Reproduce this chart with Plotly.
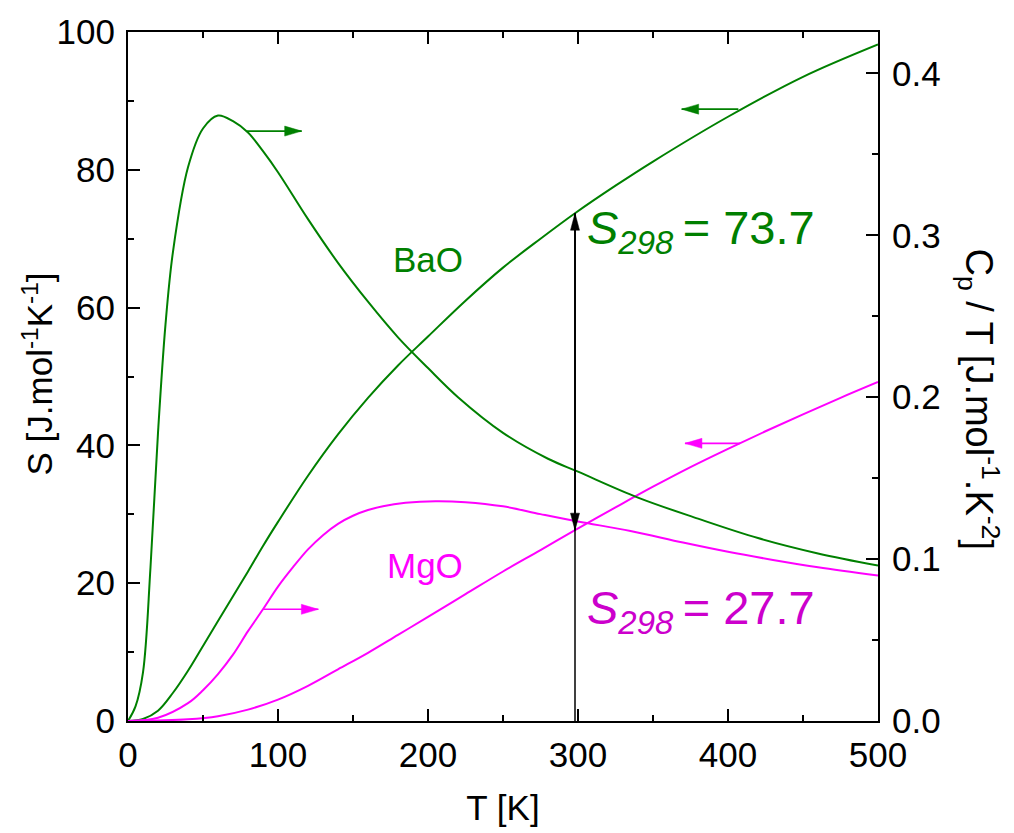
import plotly.graph_objects as go

# BaO: Cp/T (right axis) and entropy S (left axis) against temperature
bao_cp_T = [0, 5, 10, 15, 20, 25, 30, 40, 50, 60, 70, 80, 90, 100, 120, 140, 160, 180,
            200, 220, 250, 280, 300, 340, 380, 420, 460, 500]
bao_cp = [0, 0.009, 0.030, 0.095, 0.178, 0.245, 0.290, 0.342, 0.366, 0.374, 0.3705,
          0.3635, 0.352, 0.339, 0.310, 0.283, 0.259, 0.237, 0.218, 0.200, 0.178, 0.162,
          0.154, 0.138, 0.125, 0.113, 0.1035, 0.096]

bao_s_T = [0, 10, 20, 30, 40, 50, 60, 70, 80, 90, 100, 120, 140, 160, 180, 200, 225,
           250, 275, 298, 325, 350, 400, 450, 500]
bao_s = [0, 0.3, 1.5, 4.1, 7.3, 10.9, 14.5, 18.1, 21.7, 25.4, 28.9, 35.6, 41.6, 46.9,
         51.6, 55.8, 61.0, 65.8, 70.0, 73.7, 77.7, 81.2, 87.7, 93.5, 98.2]

# MgO: Cp/T (right axis) and entropy S (left axis)
mgo_cp_T = [0, 20, 40, 50, 60, 70, 80, 90, 100, 110, 120, 130, 140, 150, 160, 170, 185,
            205, 225, 250, 275, 300, 335, 370, 400, 430, 460, 500]
mgo_cp = [0, 0.002, 0.011, 0.019, 0.029, 0.041, 0.0555, 0.069, 0.083, 0.095, 0.106,
          0.1148, 0.1218, 0.1268, 0.1303, 0.1327, 0.1348, 0.1358, 0.1352, 0.1326,
          0.1278, 0.1232, 0.1174, 0.1102, 0.1045, 0.0995, 0.0950, 0.0898]

mgo_s_T = [0, 40, 60, 80, 100, 120, 140, 160, 180, 200, 225, 250, 275, 298, 325, 350,
           375, 400, 425, 450, 475, 500]
mgo_s = [0, 0.25, 0.7, 1.65, 3.1, 5.1, 7.5, 9.9, 12.5, 15.1, 18.4, 21.7, 24.8, 27.7,
         31.0, 34.0, 36.85, 39.5, 42.05, 44.5, 46.9, 49.2]

T_REF = 298
S298_BAO = 73.7
S298_MGO = 27.7

GREEN = "#008000"
MAGENTA = "#FF00FF"
FONT = "Liberation Sans, Arial, sans-serif"

fig = go.Figure()


def curve(xs, ys, axis, color):
    fig.add_trace(go.Scatter(
        x=xs, y=ys, yaxis=axis, mode="lines", showlegend=False, hoverinfo="skip",
        line=dict(color=color, width=2, shape="spline", smoothing=1.0, simplify=False)))


curve(bao_cp_T, bao_cp, "y2", GREEN)
curve(bao_s_T, bao_s, "y", GREEN)
curve(mgo_cp_T, mgo_cp, "y2", MAGENTA)
curve(mgo_s_T, mgo_s, "y", MAGENTA)

shapes = []


def arrow(x_tail, y_tail, x_tip, y_tip, yref, color, width=1.6, head_len=17, head_w=5):
    """Straight line with a filled triangular head drawn in pixel units at the tip."""
    shapes.append(dict(type="line", xref="x", yref=yref, x0=x_tail, y0=y_tail,
                       x1=x_tip, y1=y_tip, line=dict(color=color, width=width)))
    if x_tip > x_tail:
        path = f"M0,0 L{-head_len},{head_w} L{-head_len},{-head_w} Z"
    elif x_tip < x_tail:
        path = f"M0,0 L{head_len},{head_w} L{head_len},{-head_w} Z"
    elif y_tip > y_tail:
        path = f"M0,0 L{-head_w},{-head_len} L{head_w},{-head_len} Z"
    else:
        path = f"M0,0 L{-head_w},{head_len} L{head_w},{head_len} Z"
    shapes.append(dict(type="path", xref="x", yref=yref, xsizemode="pixel",
                       ysizemode="pixel", xanchor=x_tip, yanchor=y_tip, path=path,
                       fillcolor=color, line=dict(color=color, width=0.5)))


# pointers showing which axis each curve belongs to
arrow(79.1, 0.3644, 115.8, 0.3644, "y2", GREEN)
arrow(406.9, 88.8, 369.1, 88.8, "y", GREEN)
arrow(90.2, 0.069, 126.9, 0.069, "y2", MAGENTA)
arrow(408, 40.3, 371.3, 40.3, "y", MAGENTA)

# standard entropy marker at 298 K
shapes.append(dict(type="line", xref="x", yref="y", x0=T_REF, y0=0, x1=T_REF,
                   y1=S298_BAO, line=dict(color="black", width=1.5)))
arrow(T_REF, S298_MGO, T_REF, S298_BAO, "y", "black", width=1.5, head_len=17, head_w=4.5)
arrow(T_REF, S298_BAO, T_REF, S298_MGO, "y", "black", width=1.5, head_len=17, head_w=4.5)

THIN = "\u2009"
annotations = [
    dict(x=199.7, y=67.0, xref="x", yref="y", text="BaO", showarrow=False,
         font=dict(size=35, color=GREEN)),
    dict(x=198, y=22.6, xref="x", yref="y", text="MgO", showarrow=False,
         font=dict(size=35, color=MAGENTA)),
    dict(x=304.5, y=71.1, xref="x", yref="y", xanchor="left", yanchor="middle",
         text=f"<i>S</i><sub><i>{T_REF}</i></sub>{THIN}= {S298_BAO}", showarrow=False,
         font=dict(size=47, color="#007F00")),
    dict(x=304.5, y=15.9, xref="x", yref="y", xanchor="left", yanchor="middle",
         text=f"<i>S</i><sub><i>{T_REF}</i></sub>{THIN}= {S298_MGO}", showarrow=False,
         font=dict(size=47, color="#CC00CC")),
    dict(x=0, y=0.5, xref="paper", yref="paper", xanchor="center", yanchor="middle",
         xshift=-91, yshift=2, textangle=-90,
         text="S [J.mol<sup>-1</sup>K<sup>-1</sup>]", showarrow=False,
         font=dict(size=35, color="black")),
    dict(x=1, y=0.5, xref="paper", yref="paper", xanchor="center", yanchor="middle",
         xshift=101, yshift=-22, textangle=90,
         text="C<sub>p</sub> / T [J.mol<sup>-1</sup>.K<sup>-2</sup>]", showarrow=False,
         font=dict(size=38, color="black")),
]

axis_common = dict(showgrid=False, zeroline=False, showline=True, linecolor="black",
                   linewidth=2, ticks="inside", ticklen=12, tickwidth=2,
                   tickcolor="black", tickfont=dict(size=35, color="black"))

fig.update_layout(
    width=1014, height=833,
    margin=dict(l=128, r=136, t=30, b=108),
    paper_bgcolor="white", plot_bgcolor="white",
    font=dict(family=FONT, size=35, color="black"),
    showlegend=False,
    xaxis=dict(range=[0, 500], tick0=0, dtick=100, mirror="ticks",
               minor=dict(ticks="inside", ticklen=6, tickwidth=2, dtick=50, tickcolor="black"),
               ticklabelstandoff=2,
               title=dict(text="T [K]", font=dict(size=35), standoff=22),
               **axis_common),
    yaxis=dict(range=[0, 100], tick0=0, dtick=20, mirror=False,
               minor=dict(ticks="inside", ticklen=6, tickwidth=2, dtick=10, tickcolor="black"),
               ticklabelstandoff=4,
               **axis_common),
    yaxis2=dict(range=[0, 0.4256], tick0=0, dtick=0.1, tickformat=".1f",
                overlaying="y", side="right", anchor="x",
                minor=dict(ticks="inside", ticklen=6, tickwidth=2, dtick=0.05, tickcolor="black"),
                ticklabelstandoff=5,
                **axis_common),
    shapes=shapes,
    annotations=annotations,
)

fig.write_html("out.html")
